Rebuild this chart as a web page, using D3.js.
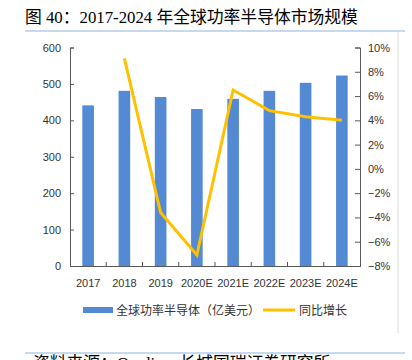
<!DOCTYPE html>
<html><head><meta charset="utf-8">
<script src="https://cdn.jsdelivr.net/npm/d3@7/dist/d3.min.js"></script>
<style>body{margin:0;background:#fff}svg{display:block}</style>
</head><body>
<script>
const categories = ["2017","2018","2019","2020E","2021E","2022E","2023E","2024E"];
const marketSize = [441, 481, 464, 431, 459, 481, 503, 523];
const growth = [null, 9.1, -3.6, -7.1, 6.5, 4.8, 4.3, 4.0];
const leftTicks = [0,100,200,300,400,500,600];
const rightTicks = [-8,-6,-4,-2,0,2,4,6,8,10];
const title = "图 40：2017-2024 年全球功率半导体市场规模";
const source = "资料来源：Omdia，长城国瑞证券研究所";
const legendLabels = ["全球功率半导体（亿美元）","同比增长"];

const W=412,H=360;
const m={l:70,r:360,t:47.5,b:266};
const barColor="#5489D3", lineColor="#FFC000", axisColor="#595959", txt="#333";
const svg=d3.select("body").append("svg").attr("width",W).attr("height",H);

const x=d3.scaleBand().domain(categories).range([m.l,m.r]);
const yL=d3.scaleLinear().domain([0,600]).range([m.b,m.t]);
const yR=d3.scaleLinear().domain([-8,10]).range([m.b,m.t]);

// frame lines
svg.append("text").attr("x",25).attr("y",23).attr("font-size",16.8)
  .attr("font-family","'Liberation Serif','Noto Sans CJK SC',serif").attr("fill","#000").text(title);
svg.append("line").attr("x1",25).attr("x2",405).attr("y1",31).attr("y2",31).attr("stroke","#8DB3E2").attr("stroke-width",1.2);
svg.append("line").attr("x1",398).attr("x2",398).attr("y1",31).attr("y2",333).attr("stroke","#D0D0D0").attr("stroke-width",0.8);
svg.append("line").attr("x1",25).attr("x2",405).attr("y1",353).attr("y2",353).attr("stroke","#8DB3E2").attr("stroke-width",1.2);
svg.append("text").attr("x",33).attr("y",369).attr("font-size",16.8)
  .attr("font-family","'Liberation Serif','Noto Sans CJK SC',serif").attr("fill","#000").text(source);

// bars
const bw=x.step()*0.32;
svg.append("g").selectAll("rect").data(categories).join("rect")
  .attr("x",d=>x(d)+x.bandwidth()/2-bw/2).attr("width",bw)
  .attr("y",(d,i)=>yL(marketSize[i])).attr("height",(d,i)=>m.b-yL(marketSize[i]))
  .attr("fill",barColor);

// axes
const font="'Liberation Sans',Arial,sans-serif";
const gL=svg.append("g").attr("transform",`translate(${m.l},0)`)
  .call(d3.axisRight(yL).tickValues(leftTicks).tickSize(4).tickFormat(d3.format("d")));
gL.selectAll("text").attr("x",-9).attr("text-anchor","end");
const gR=svg.append("g").attr("transform",`translate(${m.r},0)`)
  .call(d3.axisLeft(yR).tickValues(rightTicks).tickSize(5).tickFormat(d=>(d<0?"\u2212"+(-d):d)+"%"));
gR.selectAll("text").attr("x",8).attr("text-anchor","start");
const gX=svg.append("g").attr("transform",`translate(0,${m.b})`)
  .call(d3.axisBottom(x).tickSize(0));
gX.selectAll("text").attr("dy",0).attr("y",21);
const bounds=categories.slice(1).map(c=>x(c));
gX.selectAll(".bt").data(bounds).join("line").attr("class","bt")
  .attr("x1",d=>d).attr("x2",d=>d).attr("y1",0).attr("y2",-4).attr("stroke",axisColor);
[gL,gR,gX].forEach(g=>{
  g.select(".domain").attr("stroke",axisColor);
  g.selectAll(".tick line").attr("stroke",axisColor);
  g.selectAll("text").attr("font-family",font).attr("font-size",11).attr("fill",txt);
});

// line
const line=d3.line().defined(d=>d[1]!=null)
  .x(d=>x(d[0])+x.bandwidth()/2).y(d=>yR(d[1]));
svg.append("path").datum(categories.map((c,i)=>[c,growth[i]]))
  .attr("d",line).attr("fill","none").attr("stroke",lineColor).attr("stroke-width",3).attr("stroke-linejoin","miter");

// legend
const lg=svg.append("g").attr("font-family","'Noto Sans CJK SC',sans-serif").attr("font-size",12).attr("fill",txt);
lg.append("rect").attr("x",83).attr("y",307).attr("width",30).attr("height",6).attr("fill",barColor);
lg.append("text").attr("x",116).attr("y",314.5).text(legendLabels[0]);
lg.append("line").attr("x1",263).attr("x2",295).attr("y1",310).attr("y2",310).attr("stroke",lineColor).attr("stroke-width",3);
lg.append("text").attr("x",299).attr("y",314.5).text(legendLabels[1]);
</script>
</body></html>
